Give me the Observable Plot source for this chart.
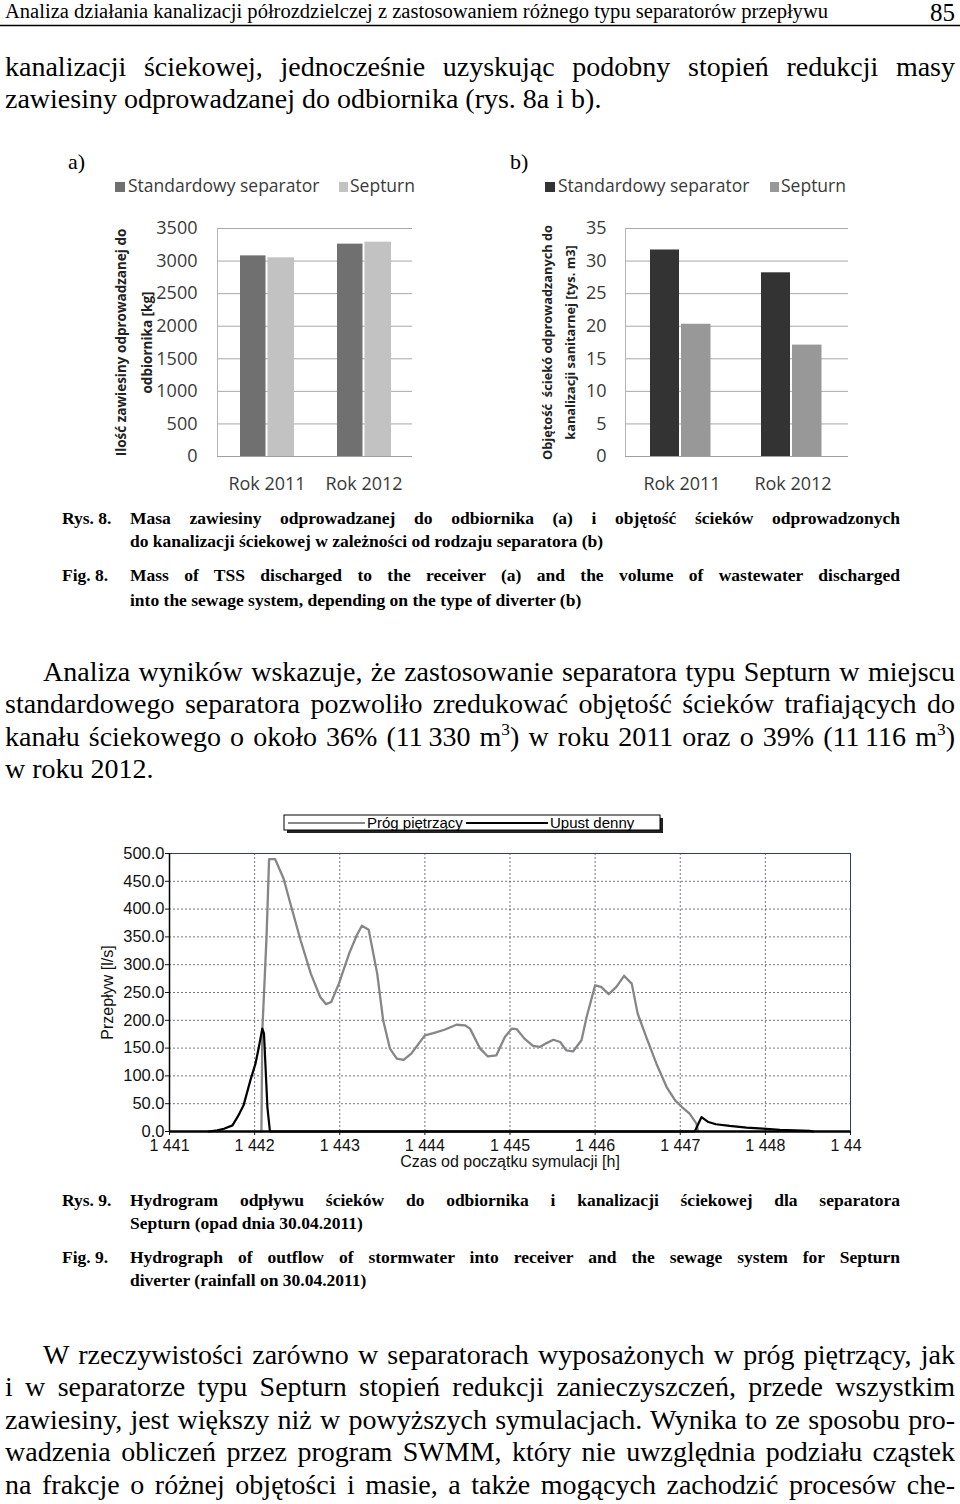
<!DOCTYPE html>
<html><head><meta charset="utf-8">
<script src="https://cdn.jsdelivr.net/npm/d3@7"></script>
<script src="https://cdn.jsdelivr.net/npm/@observablehq/plot@0.6"></script>
<style>
html,body{margin:0;padding:0;background:#fff;}
#page{position:relative;width:960px;height:1504px;overflow:hidden;background:#fff;}
#page > svg.overlay{position:absolute;left:0;top:0;}
.chart{position:absolute;overflow:hidden;}
.chart svg{overflow:hidden;}
</style></head><body><div id="page"></div>
<script>
// ---------- DATA ----------
// Fig. 8a – mass of TSS discharged to the receiver [kg]
const years = ["Rok 2011", "Rok 2012"];
const seriesNames = ["Standardowy separator", "Septurn"];
const massStandard = [3080, 3260];
const massSepturn = [3050, 3290];
const massTicks = [0, 500, 1000, 1500, 2000, 2500, 3000, 3500];
// Fig. 8b – volume of wastewater to sanitary sewer [thousand m3]
const volumeStandard = [31.7, 28.2];
const volumeSepturn = [20.3, 17.1];
const volumeTicks = [0, 5, 10, 15, 20, 25, 30, 35];
// Fig. 9 – hydrograph
const hourTicks = [1441, 1442, 1443, 1444, 1445, 1446, 1447, 1448, 1449];
const flowTicks = [0, 50, 100, 150, 200, 250, 300, 350, 400, 450, 500];
const progHours = [1442.08, 1442.09, 1442.14, 1442.17, 1442.24, 1442.34, 1442.42, 1442.54, 1442.66, 1442.77, 1442.84, 1442.90, 1442.99, 1443.11, 1443.20, 1443.26, 1443.34, 1443.44, 1443.51, 1443.59, 1443.67, 1443.75, 1443.84, 1444.00, 1444.10, 1444.23, 1444.37, 1444.47, 1444.53, 1444.65, 1444.74, 1444.84, 1444.94, 1445.02, 1445.08, 1445.17, 1445.27, 1445.35, 1445.43, 1445.51, 1445.59, 1445.66, 1445.74, 1445.84, 1445.90, 1446.00, 1446.07, 1446.16, 1446.25, 1446.34, 1446.43, 1446.50, 1446.60, 1446.72, 1446.84, 1446.94, 1447.02, 1447.11, 1447.19, 1447.21];
const progFlow = [0, 180, 350, 490, 490, 455, 410, 344, 284, 242, 229, 233, 266, 320, 353, 370, 363, 284, 200, 149, 131, 129, 140, 173, 177, 183, 192, 191, 185, 149, 135, 137, 170, 185, 184, 167, 154, 152, 159, 165, 161, 146, 144, 164, 206, 263, 260, 247, 260, 280, 266, 212, 170, 122, 80, 56, 44, 32, 14, 0];
const upustHours = [1441.46, 1441.56, 1441.64, 1441.74, 1441.81, 1441.87, 1441.95, 1442.01, 1442.05, 1442.09, 1442.11, 1442.15, 1442.18, 1447.17, 1447.25, 1447.33, 1447.42, 1447.58, 1447.78, 1447.97, 1448.17, 1448.52, 1448.56];
const upustFlow = [0, 2, 5, 11, 29, 47, 92, 122, 152, 185, 176, 44, 0, 0, 26, 17, 13, 10, 7, 5, 3, 1, 0];
const hydroSeries = ["Próg piętrzący", "Upust denny"];

// ---------- PAGE ----------
const page = document.getElementById("page");
const NS = "http://www.w3.org/2000/svg";
const SERIF = "Liberation Serif, Times New Roman, serif";
const SANS = "Liberation Sans, Arial, sans-serif";
const CAL = "Open Sans, sans-serif";
const overlay = document.createElementNS(NS, "svg");
overlay.setAttribute("class", "overlay");
overlay.setAttribute("width", 960); overlay.setAttribute("height", 1504);
page.appendChild(overlay);

function el(tag, attrs, parent) {
  const e = document.createElementNS(NS, tag);
  for (const k in attrs) e.setAttribute(k, attrs[k]);
  (parent || overlay).appendChild(e);
  return e;
}
function line(parts, x, y, size, opts = {}) {
  const t = el("text", {x, y, "font-size": size, fill: opts.fill || "#000"});
  t.style.fontFamily = opts.family || SERIF;
  t.style.whiteSpace = "pre";
  if (opts.weight) t.setAttribute("font-weight", opts.weight);
  if (opts.anchor) t.setAttribute("text-anchor", opts.anchor);
  if (typeof parts === "string") parts = [parts];
  let shift = 0;
  for (const p of parts) {
    const ts = el("tspan", {}, t);
    const sup = Array.isArray(p);
    const s = sup ? p[0] : p;
    const target = sup ? -size * 0.38 : 0;
    if (target !== shift) { ts.setAttribute("dy", target - shift); shift = target; }
    if (sup) ts.setAttribute("font-size", size * 0.62);
    ts.textContent = s;
  }
  if (opts.to !== undefined) {
    const width = opts.to - x;
    const w = t.getComputedTextLength();
    const spaces = (t.textContent.match(/ /g) || []).length;
    if (opts.mode === "justify" && w < width && spaces > 0) {
      t.style.wordSpacing = ((width - w) / spaces) + "px";
    } else {
      t.setAttribute("textLength", width);
      t.setAttribute("lengthAdjust", "spacingAndGlyphs");
    }
  }
  return t;
}

// header
line("Analiza działania kanalizacji półrozdzielczej z zastosowaniem różnego typu separatorów przepływu", 5, 18, 20, {to: 828, mode: "fit"});
line("85", 955, 21, 25, {anchor: "end"});
el("line", {x1: 0, x2: 960, y1: 25.5, y2: 25.5, stroke: "#000", "stroke-width": 1.5});

// top text
line("kanalizacji ściekowej, jednocześnie uzyskując podobny stopień redukcji masy", 5, 76, 28, {to: 955, mode: "justify"});
line("zawiesiny odprowadzanej do odbiornika (rys. 8a i b).", 5, 108, 28);
line("a)", 68, 169, 22);
line("b)", 510, 169, 22);

// captions fig 8
line("Rys. 8.", 62, 524, 17.5, {weight: "bold"});
line("Masa zawiesiny odprowadzanej do odbiornika (a) i objętość ścieków odprowadzonych", 130, 524, 17.5, {weight: "bold", to: 900, mode: "justify"});
line("do kanalizacji ściekowej w zależności od rodzaju separatora (b)", 130, 547, 17.5, {weight: "bold"});
line("Fig. 8.", 62, 581, 17.5, {weight: "bold"});
line("Mass of TSS discharged to the receiver (a) and the volume of wastewater discharged", 130, 581, 17.5, {weight: "bold", to: 900, mode: "justify"});
line("into the sewage system, depending on the type of diverter (b)", 130, 606, 17.5, {weight: "bold"});

// paragraph
line("Analiza wyników wskazuje, że zastosowanie separatora typu Septurn w miejscu", 43, 681, 28, {to: 955, mode: "justify"});
line("standardowego separatora pozwoliło zredukować objętość ścieków trafiających do", 5, 713, 28, {to: 955, mode: "justify"});
line(["kanału ściekowego o około 36% (11\u2009330 m", ["3"], ") w roku 2011 oraz o 39% (11\u2009116 m", ["3"], ")"], 5, 746, 28, {to: 955, mode: "justify"});
line("w roku 2012.", 5, 778, 28);

// captions fig 9
line("Rys. 9.", 62, 1206, 17.5, {weight: "bold"});
line("Hydrogram odpływu ścieków do odbiornika i kanalizacji ściekowej dla separatora", 130, 1206, 17.5, {weight: "bold", to: 900, mode: "justify"});
line("Septurn (opad dnia 30.04.2011)", 130, 1229, 17.5, {weight: "bold"});
line("Fig. 9.", 62, 1263, 17.5, {weight: "bold"});
line("Hydrograph of outflow of stormwater into receiver and the sewage system for Septurn", 130, 1263, 17.5, {weight: "bold", to: 900, mode: "justify"});
line("diverter (rainfall on 30.04.2011)", 130, 1286, 17.5, {weight: "bold"});

// bottom paragraph
line("W rzeczywistości zarówno w separatorach wyposażonych w próg piętrzący, jak", 43, 1364, 28, {to: 955, mode: "justify"});
line("i w separatorze typu Septurn stopień redukcji zanieczyszczeń, przede wszystkim", 5, 1396, 28, {to: 955, mode: "justify"});
line("zawiesiny, jest większy niż w powyższych symulacjach. Wynika to ze sposobu pro-", 5, 1429, 28, {to: 955, mode: "justify"});
line("wadzenia obliczeń przez program SWMM, który nie uwzględnia podziału cząstek", 5, 1461, 28, {to: 955, mode: "justify"});
line("na frakcje o różnej objętości i masie, a także mogących zachodzić procesów che-", 5, 1494, 28, {to: 955, mode: "justify"});

// legends of fig 8
function barLegend(x0, x1, c0, c1) {
  el("rect", {x: x0, y: 182, width: 10, height: 10, fill: c0});
  line(seriesNames[0], x0 + 13, 192, 17.5, {family: CAL, fill: "#3a3a3a"});
  el("rect", {x: x1, y: 182, width: 9, height: 10, fill: c1});
  line(seriesNames[1], x1 + 11, 192, 17.5, {family: CAL, fill: "#3a3a3a"});
}
barLegend(115, 339, "#707070", "#c2c2c2");
barLegend(545, 770, "#333333", "#989898");

// legend of fig 9
el("rect", {x: 287, y: 818, width: 376, height: 15, fill: "#222"});
el("rect", {x: 284, y: 815, width: 376, height: 15, fill: "#fff", stroke: "#000", "stroke-width": 1});
el("line", {x1: 288, x2: 365, y1: 823, y2: 823, stroke: "#888", "stroke-width": 2});
line(hydroSeries[0], 367, 827.5, 15, {family: SANS});
el("line", {x1: 466, x2: 548, y1: 823, y2: 823, stroke: "#000", "stroke-width": 2});
line(hydroSeries[1], 550, 827.5, 15, {family: SANS});

// ---------- CHARTS ----------
function place(svg, left, top, w, h) {
  const d = document.createElement("div");
  d.className = "chart";
  d.style.left = left + "px"; d.style.top = top + "px";
  d.style.width = w + "px"; d.style.height = h + "px";
  d.appendChild(svg);
  page.appendChild(d);
}

const rowsA = years.map((y, i) => ({year: y, standard: massStandard[i], septurn: massSepturn[i]}));
const rowsB = years.map((y, i) => ({year: y, standard: volumeStandard[i], septurn: volumeSepturn[i]}));

function barChart(rows, ticks, ymax, o) {
  return Plot.plot({
    width: o.width, height: 290,
    marginLeft: o.ml, marginRight: o.mr, marginTop: 18, marginBottom: 44,
    style: {fontFamily: CAL, fontSize: "18px", color: "#3a3a3a", background: "transparent"},
    x: {domain: years, padding: 0, axis: null},
    y: {domain: [0, ymax], axis: null},
    marks: [
      Plot.gridY(ticks, {stroke: "#a8a8a8", strokeOpacity: 1}),
      Plot.frame({anchor: "left", stroke: "#b4b4b4"}),
      Plot.barY(rows, {x: "year", y: "standard", fill: o.c0, insetLeft: o.i0[0], insetRight: o.i0[1]}),
      Plot.barY(rows, {x: "year", y: "septurn", fill: o.c1, insetLeft: o.i1[0], insetRight: o.i1[1]}),
      Plot.ruleY([0], {stroke: "#a0a0a0"}),
      Plot.axisY(ticks, {tickSize: 0, tickPadding: o.tp, fontSize: 18, tickFormat: d => String(d), label: null}),
      Plot.axisX({tickSize: 0, tickPadding: 21, fontSize: 18, label: null}),
      Plot.text([o.title], {frameAnchor: "left", textAnchor: "middle", rotate: -90, dx: o.tdx, fontWeight: "bold", fontSize: o.fs, lineHeight: o.lh, fill: "#222"})
    ]
  });
}

place(barChart(rowsA, massTicks, 3500, {
  width: 320, ml: 117, mr: 8, c0: "#707070", c1: "#c2c2c2", i0: [22, 49.5], i1: [49.5, 21], tp: 20,
  title: "Ilość zawiesiny odprowadzanej do\nodbiornika [kg]", tdx: -87, lh: 1.95, fs: 13.5
}), 100, 210, 320, 290);

place(barChart(rowsB, volumeTicks, 35, {
  width: 330, ml: 95, mr: 12, c0: "#333333", c1: "#989898", i0: [24, 58], i1: [55, 26.5], tp: 19,
  title: "Objętość  ściekó odprowadzanych do\nkanalizacji sanitarnej [tys. m3]", tdx: -69, lh: 1.8, fs: 12.8
}), 530, 210, 330, 290);

const progRows = progHours.map((h, i) => ({h, q: progFlow[i]}));
const upustRows = upustHours.map((h, i) => ({h, q: upustFlow[i]}));
const fmtHour = d => d3.format(",")(d).replace(",", " ");

place(Plot.plot({
  width: 772, height: 340,
  marginLeft: 79, marginRight: 12, marginTop: 13, marginBottom: 49,
  style: {fontFamily: SANS, fontSize: "16px", color: "#111", background: "transparent"},
  x: {domain: [1441, 1449], axis: null},
  y: {domain: [0, 500], axis: null},
  marks: [
    Plot.gridY(flowTicks, {stroke: "#3c3c5c", strokeDasharray: "2,2", strokeOpacity: 0.7}),
    Plot.gridX(hourTicks, {stroke: "#3c3c5c", strokeDasharray: "2,2", strokeOpacity: 0.7}),
    Plot.frame({stroke: "#2d3b84"}),
    Plot.line(progRows, {x: "h", y: "q", stroke: "#868686", strokeWidth: 2.3}),
    Plot.line(upustRows, {x: "h", y: "q", stroke: "#000", strokeWidth: 2.2}),
    Plot.ruleX([1441], {stroke: "#000", strokeWidth: 1.5}),
    Plot.ruleY([0], {stroke: "#000", strokeWidth: 2.5}),
    Plot.axisY(flowTicks, {tickSize: 4, tickPadding: 1, tickFormat: d => d.toFixed(1), fontSize: 16.5, label: null}),
    Plot.axisX(hourTicks, {tickSize: 4, tickPadding: 4, tickFormat: fmtHour, fontSize: 16, label: null}),
    Plot.text(["Przepływ [l/s]"], {frameAnchor: "left", textAnchor: "middle", rotate: -90, dx: -62, fontSize: 16}),
    Plot.text(["Czas od początku symulacji [h]"], {frameAnchor: "bottom", dy: 35, fontSize: 16})
  ]
}), 90, 840, 772, 340);
</script></body></html>
